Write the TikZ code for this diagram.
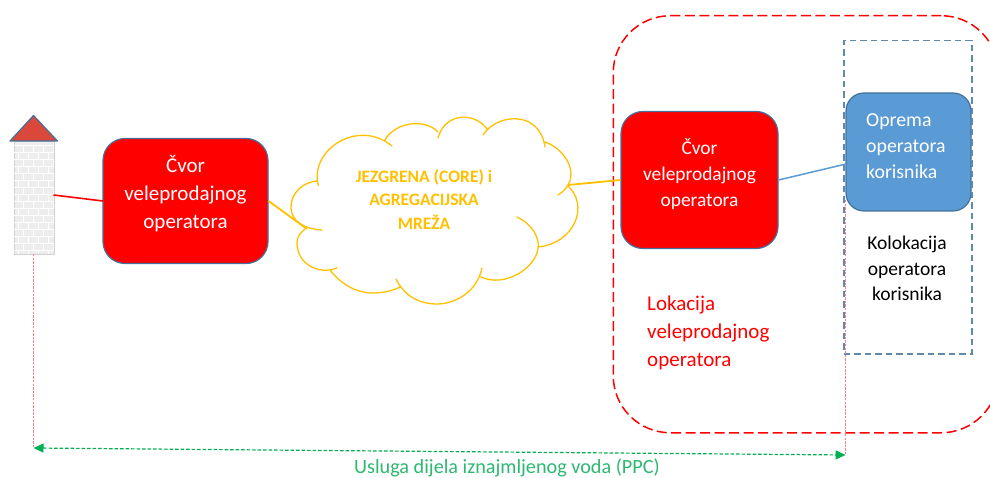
\documentclass[tikz,border=0pt]{standalone}
\usepackage{fontspec}
\setmainfont{Carlito}
\usetikzlibrary{arrows.meta}
\definecolor{edgeblue}{HTML}{41719C}
\definecolor{dashblue}{HTML}{5F8AAE}
\definecolor{cblue}{HTML}{5B9BD5}
\definecolor{cgold}{HTML}{FFC000}
\definecolor{cgreen}{HTML}{00B050}
\definecolor{tgreen}{HTML}{2DB870}
\definecolor{croof}{HTML}{D9483B}
\definecolor{ppcpink}{HTML}{F8808C}
\tikzset{
  nodebox/.style={draw=edgeblue,line width=1.2pt,rounded corners=22pt,fill=red,inner sep=0pt},
  lbl/.style={align=center,inner sep=0pt},
  cloudline/.style={draw=cgold,line width=1.3pt,line cap=round},
  ppcdrop/.style={draw=ppcpink,line width=1.5pt,dash pattern=on 2.4pt off 1.2pt},
}
\begin{document}
\begin{tikzpicture}[x=1pt,y=-1pt]
\useasboundingbox (0,0) rectangle (990,478);
% tower
\node (tower) [draw=black!18,line width=.8pt,fill=black!7,minimum width=40pt,minimum height=113pt,inner sep=0pt,anchor=north west] at (13.5,141) {};
\begin{scope}
\clip (13.5,141) rectangle (53.5,254);
\foreach \y in {0,...,15} {
  \draw[white,line width=.8pt] (13,{145+\y*7}) -- (54,{145+\y*7});
  \foreach \x in {0,1,2,3,4} {
    \pgfmathsetmacro{\xx}{13.5+\x*10+mod(\y,2)*5}
    \draw[white,line width=.7pt] (\xx,{145+\y*7}) -- (\xx,{152+\y*7});
  }
}
\end{scope}
\draw[draw=edgeblue,line width=1.2pt,fill=croof,line join=round] (33.5,115.5) -- (57.5,141) -- (10,141) -- cycle;
% nodes
\node (n1) [nodebox,minimum width=165pt,minimum height=125pt] at (185.5,201) {};
\node at (185.5,194) [lbl,text=white,font=\fontsize{21}{28}\selectfont] (n1t) {Čvor\\veleprodajnog\\operatora};
\node (n2) [nodebox,minimum width=157pt,minimum height=137pt] at (699.5,180) {};
\node at (699.5,174) [lbl,text=white,font=\fontsize{19.4}{25.7}\selectfont] (n2t) {Čvor\\veleprodajnog\\operatora};
% zones
\node (zone) [draw=red,line width=1.5pt,dash pattern=on 10pt off 4.5pt,rounded corners=57pt,minimum width=385pt,minimum height=417pt,inner sep=0pt,anchor=north west] at (612.5,15) {};
\node (n3) [draw=edgeblue,line width=1.2pt,rounded corners=18pt,fill=cblue,minimum width=125pt,minimum height=118pt,inner sep=0pt] at (908.5,152) {};
\node (coloc) [draw=dashblue,line width=1.5pt,dash pattern=on 6.5pt off 4pt,minimum width=128pt,minimum height=313pt,inner sep=0pt,anchor=north west] at (843,40) {};
\node at (866,146) [lbl,text=white,align=left,anchor=west,font=\fontsize{19.8}{25.7}\selectfont] (n3t) {Oprema\\operatora\\korisnika};
\node at (907,268.5) [lbl,text=black,font=\fontsize{19.5}{25.5}\selectfont] (ct) {Kolokacija\\operatora\\korisnika};
\node at (647,333) [lbl,text=red,align=left,anchor=west,font=\fontsize{21}{28}\selectfont] (lt) {Lokacija\\veleprodajnog\\operatora};
% cloud
\draw[cloudline]
 (318.3,185.5) .. controls (309,150) and (358,118) .. (392,146)
 (385,140) .. controls (395,122) and (425,118) .. (438,132)
 (438,138) .. controls (445,112) and (475,112) .. (487,129)
 (483,135) .. controls (497,113) and (540,110) .. (545,147)
 (545,142) .. controls (568,150) and (583,180) .. (558,195)
 (567,185) .. controls (590,205) and (575,243) .. (538,247)
 (517,217) .. controls (532,224) and (540,238) .. (538,248) .. controls (536,268) and (505,288) .. (481,277)
 (482,268) .. controls (477,292) and (455,304) .. (437,304) .. controls (418,304) and (404,295) .. (396,279)
 (400,287) .. controls (390,292) and (380,293) .. (373,293) .. controls (355,293) and (340,283) .. (330,270)
 (337,268) .. controls (320,275) and (297,265) .. (297,243) .. controls (297,237) and (300,233) .. (305,229)
 (322,230) .. controls (305,229) and (291,222) .. (291,207) .. controls (291,193) and (303,182) .. (317,181);
\node at (424,199.5) [align=center,text=cgold,inner sep=0pt,font=\fontsize{17.5}{23.5}\selectfont\bfseries] (cl) {JEZGRENA (CORE) i\\AGREGACIJSKA\\MREŽA};
% connectors
\coordinate (tw) at (53.5,195);
\coordinate (n1w) at (103,201);
\draw[red,line width=1.6pt] (tw) -- (n1w);
\coordinate (cloudL) at (307,229);
\coordinate (cloudR) at (568,185);
\draw[cgold,line width=1.8pt] (n1.east) -- (cloudL);
\draw[cgold,line width=1.8pt] (cloudR) -- (n2.west);
\coordinate (n3w) at (846,164);
\draw[cblue,line width=1.5pt] (n2.east) -- (n3w);
% guides
\coordinate (g1a) at (33.5,254);
\coordinate (g1b) at (33.5,448);
\coordinate (g2a) at (845.6,200);
\coordinate (g2b) at (845.6,455);
\draw[ppcdrop] (g1a) -- (g1b);
\draw[ppcdrop] (g2a) -- (g2b);
\draw[cgreen,line width=1.2pt,dash pattern=on 3.5pt off 2pt,{Triangle[length=10pt,width=9pt]}-{Triangle[length=10pt,width=9pt]}] (g1b) -- (g2b);
\node at (507,468) [text=tgreen,inner sep=0pt,font=\fontsize{20.2}{24}\selectfont] (ppc) {Usluga dijela iznajmljenog voda (PPC)};
\end{tikzpicture}
\end{document}
